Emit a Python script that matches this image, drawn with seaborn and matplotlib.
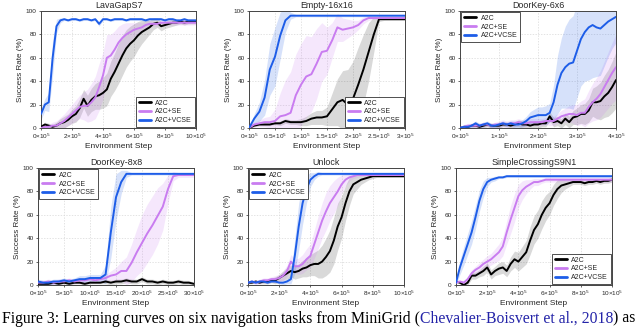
import numpy as np
import pandas as pd
import matplotlib
matplotlib.use("Agg")
import matplotlib.pyplot as plt
from matplotlib.lines import Line2D
from matplotlib.ticker import FixedLocator, FuncFormatter
import seaborn as sns

# ---- data (success rate %), x in units of 1e5 steps ----
methods = ["A2C", "A2C+SE", "A2C+VCSE"]
colors = ["#000000", "#c97cf0", "#1d5de8"]

# LavaGapS7: x = 0..10 step 0.25
lava_x = np.arange(0, 10.01, 0.25)
lava_a2c = [1, 3, 2, 1, 2, 4, 5, 7, 10, 12, 17, 25, 19, 24, 27, 28, 30, 33, 42, 48,
            55, 62, 68, 72, 75, 79, 82, 84, 86, 89, 90, 87, 88, 89, 90, 90, 91, 90, 91, 91, 91]
lava_a2c_sd = [1, 2, 2, 2, 3, 4, 5, 5, 6, 7, 8, 8, 9, 10, 11, 12, 13, 14, 15, 16,
               17, 17, 16, 15, 14, 12, 10, 8, 6, 5, 4, 4, 3, 3, 3, 2, 2, 2, 2, 2, 2]
lava_se = [0, 1, 1, 2, 2, 4, 6, 9, 12, 15, 18, 19, 19, 22, 26, 35, 45, 60, 62, 67,
           73, 77, 80, 82, 84, 85, 86, 88, 89, 89, 89, 90, 90, 90, 90, 90, 90, 90, 90, 90, 90]
lava_se_sd = [1, 1, 2, 3, 4, 5, 6, 7, 8, 9, 10, 12, 14, 16, 18, 20, 20, 20, 18, 16,
              14, 12, 10, 8, 6, 5, 4, 3, 3, 2, 2, 2, 2, 2, 2, 2, 2, 2, 2, 2, 2]
lava_vcse = [12, 20, 22, 60, 87, 92, 93, 92, 93, 93, 92, 93, 93, 92, 93, 89, 93, 93, 92, 93,
             93, 93, 92, 93, 93, 93, 93, 92, 93, 93, 93, 93, 92, 93, 93, 92, 92, 93, 92, 92, 92]
lava_vcse_sd = [5, 5, 8, 15, 6, 2, 1, 1, 1, 1, 1, 1, 1, 1, 1, 2, 1, 1, 1, 1,
                1, 1, 1, 1, 1, 1, 1, 1, 1, 1, 1, 1, 1, 1, 1, 1, 1, 1, 1, 1, 1]

# Empty-16x16: x = 0..3 step 0.1
empty_x = np.arange(0, 3.001, 0.1)
empty_a2c = [0, 2, 3, 3, 3, 4, 4, 6, 5, 5, 5, 6, 8, 9, 9, 10, 16, 22, 24, 20,
             25, 37, 50, 65, 80, 93, 93, 93, 93, 93, 93]
empty_a2c_sd = [0, 1, 1, 1, 1, 1, 2, 2, 2, 2, 3, 4, 5, 6, 6, 8, 14, 20, 25, 30,
                32, 32, 30, 25, 15, 2, 1, 1, 1, 1, 1]
empty_se = [0, 3, 4, 5, 5, 6, 10, 11, 13, 28, 37, 44, 46, 55, 65, 66, 75, 86, 84, 85,
            86, 88, 92, 94, 94, 94, 94, 94, 94, 94, 94]
empty_se_sd = [0, 2, 3, 4, 5, 10, 20, 30, 35, 35, 35, 35, 32, 30, 25, 20, 15, 12, 10, 8,
               6, 4, 3, 2, 1, 1, 1, 1, 1, 1, 1]
empty_vcse = [0, 8, 14, 26, 50, 61, 79, 92, 96, 96, 96, 96, 96, 96, 96, 96, 96, 96, 96, 96,
              96, 96, 96, 96, 96, 96, 96, 96, 96, 96, 96]
empty_vcse_sd = [0, 4, 8, 15, 22, 25, 20, 10, 3, 1, 1, 1, 1, 1, 1, 1, 1, 1, 1, 1,
                 1, 1, 1, 1, 1, 1, 1, 1, 1, 1, 1]

# DoorKey-6x6: x = 0..4 step 0.1
dk6_x = np.arange(0, 4.001, 0.1)
dk6_a2c = [0, 1, 1, 2, 2, 1, 2, 3, 2, 2, 2, 3, 3, 2, 3, 4, 3, 3, 2, 3,
           3, 4, 4, 10, 5, 6, 4, 8, 5, 9, 10, 12, 12, 15, 22, 22, 23, 27, 30, 35, 41]
dk6_a2c_sd = [1, 1, 1, 1, 2, 2, 2, 2, 2, 2, 2, 2, 2, 2, 2, 3, 3, 3, 3, 3,
              3, 3, 3, 4, 4, 4, 4, 5, 5, 6, 7, 8, 9, 10, 12, 14, 16, 18, 20, 22, 24]
dk6_se = [0, 1, 2, 2, 2, 2, 3, 3, 2, 3, 3, 4, 3, 4, 4, 5, 4, 4, 5, 5,
          5, 5, 6, 6, 6, 8, 10, 11, 12, 12, 11, 13, 13, 18, 22, 25, 29, 35, 41, 47, 52]
dk6_se_sd = [1, 2, 2, 2, 2, 2, 2, 2, 2, 2, 3, 3, 3, 3, 3, 3, 3, 3, 3, 3,
             3, 3, 3, 4, 4, 4, 5, 6, 7, 8, 9, 10, 12, 14, 16, 18, 20, 22, 24, 26, 28]
dk6_vcse = [0, 1, 1, 2, 4, 2, 3, 4, 2, 2, 3, 4, 3, 4, 3, 3, 4, 6, 9, 10,
            11, 11, 11, 13, 22, 37, 47, 52, 55, 56, 66, 76, 82, 86, 88, 86, 85, 88, 91, 93, 95]
dk6_vcse_sd = [1, 1, 2, 2, 2, 2, 2, 2, 2, 2, 2, 2, 2, 2, 3, 3, 3, 4, 5, 6,
               7, 7, 8, 8, 15, 25, 30, 35, 38, 40, 40, 40, 42, 45, 45, 42, 40, 35, 30, 25, 22]

# DoorKey-8x8: x = 0..30 step 1
dk8_x = np.arange(0, 30.01, 1.0)
dk8_a2c = [1, 1, 1, 2, 1, 2, 1, 2, 2, 1, 2, 2, 2, 3, 2, 3, 3, 4, 3, 3,
           5, 3, 3, 2, 3, 2, 2, 3, 2, 2, 1]
dk8_a2c_sd = [1, 1, 1, 1, 1, 1, 1, 1, 1, 1, 1, 1, 1, 2, 2, 2, 2, 2, 2, 2,
              2, 2, 2, 2, 2, 2, 2, 2, 2, 2, 1]
dk8_se = [2, 2, 3, 2, 3, 3, 4, 3, 4, 4, 5, 4, 5, 6, 8, 9, 12, 12, 19, 28,
          36, 44, 51, 59, 67, 82, 93, 94, 94, 94, 94]
dk8_se_sd = [2, 2, 2, 2, 2, 2, 2, 2, 2, 2, 2, 2, 2, 3, 4, 6, 8, 12, 16, 20,
             24, 25, 25, 24, 20, 12, 4, 2, 2, 2, 2]
dk8_vcse = [3, 2, 2, 3, 3, 4, 3, 4, 5, 5, 6, 6, 6, 9, 45, 75, 88, 95, 95, 95,
            95, 95, 95, 95, 95, 95, 95, 95, 95, 95, 95]
dk8_vcse_sd = [2, 2, 2, 2, 2, 2, 2, 2, 3, 3, 3, 3, 3, 8, 22, 20, 10, 3, 1, 1,
               1, 1, 1, 1, 1, 1, 1, 1, 1, 1, 1]

# Unlock: x = 0..10 step 0.25
unlock_x = np.arange(0, 10.01, 0.25)
unlock_a2c = [2, 2, 3, 2, 3, 3, 4, 4, 6, 8, 10, 12, 11, 12, 14, 15, 17, 18, 18, 20,
              24, 29, 38, 50, 58, 70, 80, 86, 88, 90, 91, 92, 93, 93, 93, 93, 93, 93, 93, 93, 93]
unlock_a2c_sd = [1, 1, 1, 1, 2, 2, 2, 3, 3, 4, 5, 5, 6, 6, 7, 8, 9, 10, 12, 14,
                 16, 18, 20, 20, 18, 15, 12, 8, 6, 4, 3, 2, 2, 1, 1, 1, 1, 1, 1, 1, 1]
unlock_se = [2, 3, 2, 3, 4, 4, 5, 5, 6, 8, 12, 20, 16, 16, 18, 22, 25, 35, 45, 55,
             63, 70, 75, 80, 86, 90, 92, 93, 94, 94, 94, 94, 94, 94, 94, 94, 94, 94, 94, 94, 94]
unlock_se_sd = [1, 1, 2, 2, 2, 2, 2, 3, 3, 4, 5, 6, 6, 7, 8, 9, 10, 12, 14, 15,
                16, 15, 14, 12, 8, 5, 3, 2, 2, 1, 1, 1, 1, 1, 1, 1, 1, 1, 1, 1, 1]
unlock_vcse = [2, 3, 2, 3, 3, 2, 3, 3, 2, 2, 3, 5, 25, 50, 70, 82, 90, 93, 95, 95,
               95, 95, 95, 95, 95, 95, 95, 95, 95, 95, 95, 95, 95, 95, 95, 95, 95, 95, 95, 95, 95]
unlock_vcse_sd = [1, 1, 1, 1, 1, 1, 1, 1, 1, 2, 2, 4, 15, 20, 18, 12, 6, 3, 2, 1,
                  1, 1, 1, 1, 1, 1, 1, 1, 1, 1, 1, 1, 1, 1, 1, 1, 1, 1, 1, 1, 1]

# SimpleCrossingS9N1: x = 0..10 step 0.25
sc_x = np.arange(0, 10.01, 0.25)
sc_a2c = [3, 2, 0, 2, 8, 8, 10, 12, 15, 9, 12, 14, 15, 12, 18, 22, 20, 24, 28, 38,
          47, 52, 60, 66, 70, 77, 82, 85, 86, 87, 88, 88, 88, 87, 88, 88, 89, 88, 89, 89, 90]
sc_a2c_sd = [1, 1, 1, 2, 3, 3, 3, 4, 4, 4, 4, 5, 5, 5, 6, 7, 8, 9, 10, 12,
             12, 12, 12, 11, 10, 9, 8, 6, 4, 3, 2, 2, 2, 2, 2, 2, 2, 2, 2, 2, 2]
sc_se = [2, 3, 2, 5, 10, 13, 15, 18, 20, 22, 25, 28, 33, 45, 56, 66, 76, 81, 84, 86,
         88, 88, 89, 90, 90, 90, 90, 90, 90, 90, 90, 90, 90, 90, 90, 90, 90, 90, 90, 90, 90]
sc_se_sd = [1, 1, 2, 2, 3, 3, 4, 4, 5, 5, 6, 7, 8, 10, 12, 12, 10, 8, 6, 4,
            3, 3, 2, 2, 2, 2, 2, 2, 2, 2, 2, 2, 2, 2, 2, 2, 2, 2, 2, 2, 2]
sc_vcse = [2, 15, 25, 35, 45, 58, 72, 82, 88, 90, 91, 92, 92, 93, 93, 93, 93, 93, 93, 93,
           93, 93, 93, 93, 93, 93, 93, 93, 93, 93, 93, 93, 93, 93, 93, 93, 93, 93, 93, 93, 93]
sc_vcse_sd = [2, 6, 8, 9, 10, 10, 9, 7, 4, 2, 2, 1, 1, 1, 1, 1, 1, 1, 1, 1,
              1, 1, 1, 1, 1, 1, 1, 1, 1, 1, 1, 1, 1, 1, 1, 1, 1, 1, 1, 1, 1]

panels = [
    ("LavaGapS7", lava_x, [lava_a2c, lava_se, lava_vcse],
     [lava_a2c_sd, lava_se_sd, lava_vcse_sd], [0, 2, 4, 6, 8, 10], "lower right"),
    ("Empty-16x16", empty_x, [empty_a2c, empty_se, empty_vcse],
     [empty_a2c_sd, empty_se_sd, empty_vcse_sd], [0, 0.5, 1, 1.5, 2, 2.5, 3], "lower right"),
    ("DoorKey-6x6", dk6_x, [dk6_a2c, dk6_se, dk6_vcse],
     [dk6_a2c_sd, dk6_se_sd, dk6_vcse_sd], [0, 1, 2, 3, 4], "upper left"),
    ("DoorKey-8x8", dk8_x, [dk8_a2c, dk8_se, dk8_vcse],
     [dk8_a2c_sd, dk8_se_sd, dk8_vcse_sd], [0, 5, 10, 15, 20, 25, 30], "upper left"),
    ("Unlock", unlock_x, [unlock_a2c, unlock_se, unlock_vcse],
     [unlock_a2c_sd, unlock_se_sd, unlock_vcse_sd], [0, 2, 4, 6, 8, 10], "upper left"),
    ("SimpleCrossingS9N1", sc_x, [sc_a2c, sc_se, sc_vcse],
     [sc_a2c_sd, sc_se_sd, sc_vcse_sd], [0, 2, 4, 6, 8, 10], "lower right"),
]

# axes boxes in pixels (left, top, width, height) of a 640x328 canvas
boxes = [(41, 11, 155, 117), (249, 11, 156, 117), (460, 11, 156, 117),
         (38, 168, 156, 117), (248, 168, 156, 117), (456, 168, 156, 117)]

sns.set_theme(style="whitegrid")
plt.rcParams["font.family"] = ["Liberation Sans", "DejaVu Sans"]
plt.rcParams["mathtext.default"] = "regular"

W, H = 640, 328
fig = plt.figure(figsize=(W / 100, H / 100), dpi=100)
fig.patch.set_facecolor("white")

for (title, x, means, sds, xt, loc), (l, t, w, h) in zip(panels, boxes):
    ax = fig.add_axes([l / W, 1 - (t + h) / H, w / W, h / H])
    df = pd.concat([pd.DataFrame({"step": x, "rate": m, "method": name})
                    for m, name in zip(means, methods)])
    for m, sd, c in zip(means, sds, colors):
        m = np.asarray(m, float)
        sd = np.asarray(sd, float)
        ax.fill_between(x, m - sd, m + sd, color=c,
                        alpha=0.18 if c != "#000000" else 0.15, lw=0, zorder=1)
    sns.lineplot(data=df, x="step", y="rate", hue="method", hue_order=methods,
                 palette=colors, linewidth=1.4, legend=False, ax=ax, zorder=3)

    ax.set_xlim(x[0], x[-1])
    ax.set_ylim(0, 100)
    ax.xaxis.set_major_locator(FixedLocator(xt))
    ax.xaxis.set_major_formatter(FuncFormatter(lambda v, p: rf"${v:g}{{\times}}10^5$"))
    ax.set_yticks([0, 20, 40, 60, 80, 100])
    ax.tick_params(labelsize=4.6, length=1.5, width=0.5, pad=1.5,
                   bottom=True, left=True)
    ax.set_title(title, fontsize=6.4, pad=2)
    ax.set_xlabel("Environment Step", fontsize=6, labelpad=1)
    ax.set_ylabel("Success Rate (%)", fontsize=5.8, labelpad=1.5)
    ax.grid(True, color="#d8d8d8", linestyle=(0, (2, 2)), linewidth=0.5)
    for s in ax.spines.values():
        s.set_color("#444444")
        s.set_linewidth(0.7)

    handles = [Line2D([], [], color=c, lw=2) for c in colors]
    leg = ax.legend(handles, methods, loc=loc, fontsize=5, frameon=True,
                    fancybox=False, edgecolor="#333333", framealpha=1,
                    handlelength=1.8, handletextpad=0.6, borderpad=0.35,
                    labelspacing=0.25, borderaxespad=0.2)
    leg.get_frame().set_linewidth(0.6)

# caption (with the citation in link blue)
serif = ["Liberation Serif", "DejaVu Serif"]
parts = [("Figure 3: Learning curves on six navigation tasks from MiniGrid (", "black"),
         ("Chevalier-Boisvert et al., 2018", "#2424a8"),
         (") as", "black")]
fig.canvas.draw()
renderer = fig.canvas.get_renderer()
xpos = 2 / W
for txt, col in parts:
    t = fig.text(xpos, 0.016, txt, fontsize=11.3, family=serif, color=col,
                 va="baseline", ha="left")
    bb = t.get_window_extent(renderer=renderer)
    xpos = bb.x1 / W

fig.savefig("out.png", dpi=100)
